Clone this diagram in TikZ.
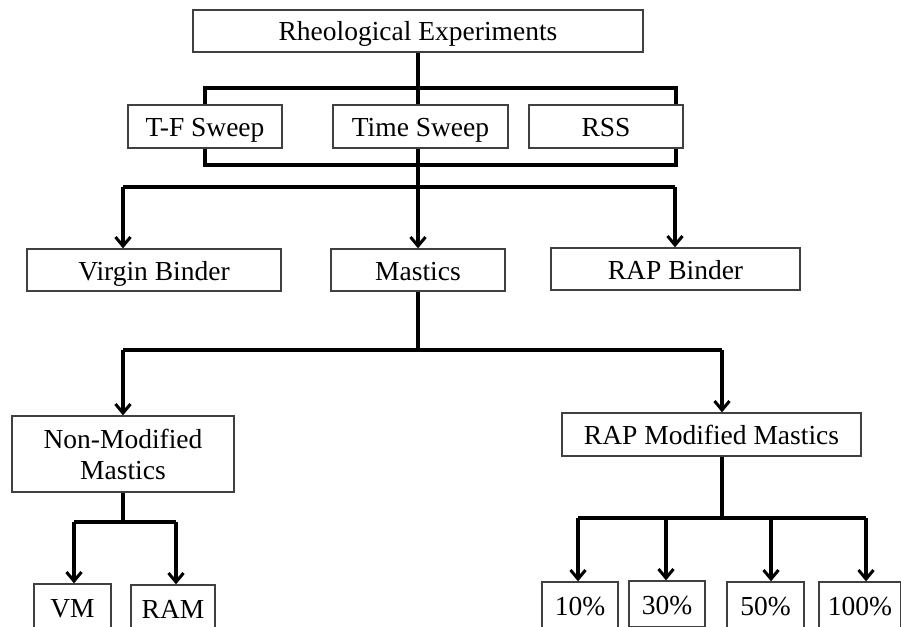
\documentclass[tikz,border=0pt]{standalone}
\usepackage{fontspec}
\setmainfont{Liberation Serif}
\usetikzlibrary{arrows.meta}
\begin{document}
\begin{tikzpicture}[x=1pt,y=-1pt,
  boxbase/.style={draw=black!75, line width=1.3pt, inner sep=0pt, align=center, font=\fontsize{27.5}{31}\selectfont, text=black},
  box/.style={boxbase, text height=24pt, text depth=4pt},
  conn/.style={line width=3.2pt, black},
  arr/.style={conn, -{Straight Barb[length=9pt,width=15pt,line width=3pt]}}]
\useasboundingbox (0,0) rectangle (901,626);
\clip (0,0) rectangle (901,626);
% top
\node[box, minimum width=450pt, minimum height=42pt] (re) at (418,31) {Rheological Experiments};
\node[box, minimum width=154pt, minimum height=43pt] (tf) at (205,126.5) {T-F Sweep};
\node[box, minimum width=175pt, minimum height=43pt] (ts) at (420.5,126.5) {Time Sweep};
\node[box, minimum width=154pt, minimum height=43pt] (rss) at (606,126.5) {RSS};
% second level
\node[box, minimum width=254pt, minimum height=42pt] (vb) at (154,270) {Virgin Binder};
\node[box, minimum width=174pt, minimum height=42pt] (ma) at (418,270) {Mastics};
\node[box, minimum width=249pt, minimum height=42pt] (rb) at (675.5,269) {RAP Binder};
% third level
\node[boxbase, minimum width=222pt, minimum height=76pt] (nm) at (123,454) {Non-Modified\\Mastics};
\node[box, minimum width=299pt, minimum height=43pt] (rm) at (711.5,434.5) {RAP Modified Mastics};
% bottom
\node[box, minimum width=77pt, minimum height=46pt] (vm) at (72.5,607) {VM};
\node[box, minimum width=84pt, minimum height=46pt] (ram) at (173,608) {RAM};
\node[box, minimum width=76pt, minimum height=46pt] (p10) at (580,605) {10\%};
\node[box, minimum width=76pt, minimum height=46pt] (p30) at (667,604) {30\%};
\node[box, minimum width=77pt, minimum height=46pt] (p50) at (765.5,605) {50\%};
\node[box, minimum width=82pt, minimum height=46pt] (p100) at (860,605) {100\%};
% coordinates
\coordinate (b1) at (418,88);
\coordinate (b2) at (418,165);
\coordinate (b3) at (418,187);
\coordinate (b4) at (418,350);
\coordinate (b5) at (123,522);
\coordinate (b6) at (722,518);
% connectors top bracket
\draw[conn] (re.south) -- (b1);
\draw[conn] (tf.north -| 205,0) |- (b1) -| (rss.north -| 676,0);
\draw[conn] (b1) -- (ts.north -| b1);
\draw[conn] (tf.south -| 205,0) |- (b2) -| (rss.south -| 676,0);
\draw[conn] (ts.south -| b1) -- (b3);
\draw[conn] (123,187) -- (675,187);
\draw[arr] (123,187) -- (vb.north -| 123,0);
\draw[arr] (b3) -- (ma.north);
\draw[arr] (675,187) -- (rb.north -| 675,0);
% mastics
\draw[conn] (ma.south) -- (b4);
\draw[conn] (123,350) -- (722,350);
\draw[arr] (123,350) -- (nm.north);
\draw[arr] (722,350) -- (rm.north -| 722,0);
% non-modified
\draw[conn] (nm.south) -- (b5);
\draw[conn] (74,522) -- (176,522);
\draw[arr] (74,522) -- (vm.north -| 74,0);
\draw[arr] (176,522) -- (ram.north -| 176,0);
% RAP modified
\draw[conn] (rm.south -| b6) -- (b6);
\draw[conn] (578,518) -- (866,518);
\draw[arr] (578,518) -- (p10.north -| 578,0);
\draw[arr] (666,518) -- (p30.north -| 666,0);
\draw[arr] (771,518) -- (p50.north -| 771,0);
\draw[arr] (866,518) -- (p100.north -| 866,0);
\end{tikzpicture}
\end{document}
